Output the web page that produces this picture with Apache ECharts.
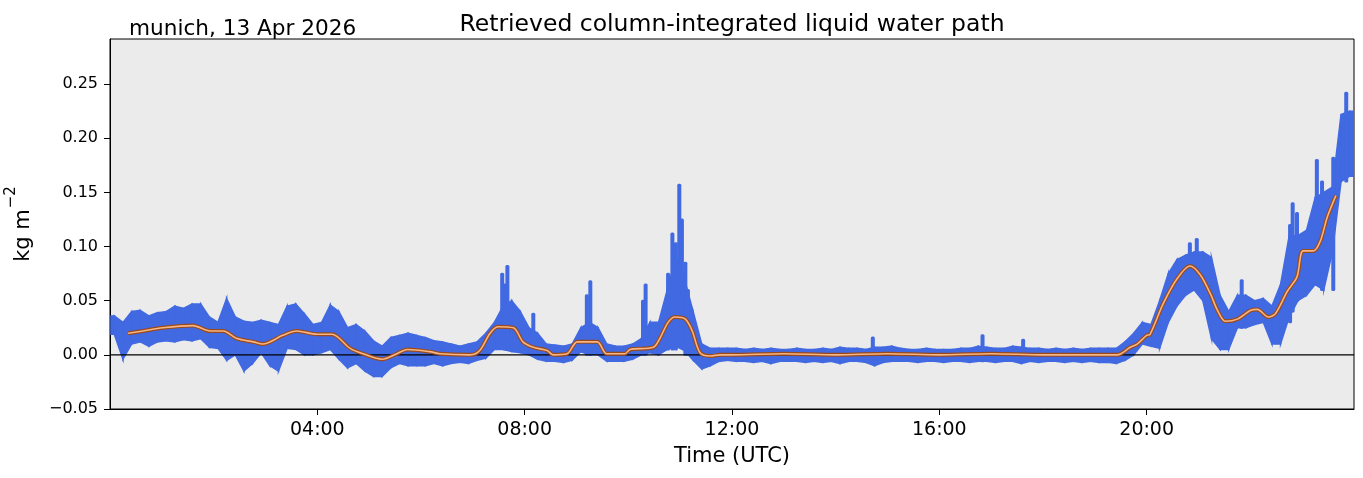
<!DOCTYPE html>
<html>
<head>
<meta charset="utf-8">
<script src="https://cdn.jsdelivr.net/npm/echarts@6/dist/echarts.min.js"></script>
<style>
html,body{margin:0;padding:0;background:#fff;}
#chart{width:1363px;height:478px;}
</style>
</head>
<body>
<div id="chart"></div>
<script>
// 10-minute bins starting 00:00 (bin i covers minutes i*10 .. i*10+10): bulk spread of the retrievals
const binMinutes = 10;
const lwpLow = [
  0.019,-0.004,0.010,0.012,0.008,0.012,
  0.013,0.012,0.014,0.013,0.015,0.007,
  0.006,-0.005,0.000,-0.015,-0.008,0.002,
  -0.010,-0.015,0.006,0.005,0.000,0.000,
  0.002,0.005,-0.004,-0.012,-0.008,-0.015,
  -0.020,-0.020,-0.012,-0.008,-0.010,-0.010,
  -0.010,-0.008,-0.010,-0.008,-0.007,-0.008,
  -0.005,-0.003,0.005,0.005,0.003,0.002,
  0.000,-0.004,-0.006,-0.006,-0.007,-0.005,
  0.003,0.000,0.000,-0.006,-0.006,-0.006,
  -0.004,0.000,0.002,0.000,0.005,0.008,
  0.004,-0.005,-0.013,-0.010,-0.006,-0.005,
  -0.006,-0.006,-0.007,-0.006,-0.008,-0.006,
  -0.006,-0.006,-0.007,-0.006,-0.007,-0.006,
  -0.008,-0.006,-0.006,-0.007,-0.010,-0.007,
  -0.006,-0.006,-0.006,-0.007,-0.006,-0.006,
  -0.007,-0.006,-0.006,-0.007,-0.006,-0.006,
  -0.007,-0.006,-0.006,-0.008,-0.006,-0.007,
  -0.006,-0.006,-0.007,-0.006,-0.007,-0.006,
  -0.007,-0.007,-0.008,-0.005,0.000,0.010,
  0.008,0.006,0.030,0.045,0.055,0.060,
  0.050,0.015,0.005,0.005,0.025,0.025,
  0.028,0.030,0.010,0.010,0.035,0.050,
  0.055,0.065,0.060,0.095,0.160,0.165
];
const lwpHigh = [
  0.036,0.030,0.040,0.041,0.036,0.039,
  0.040,0.045,0.043,0.047,0.047,0.035,
  0.030,0.052,0.035,0.031,0.030,0.032,
  0.030,0.028,0.045,0.047,0.038,0.028,
  0.030,0.046,0.040,0.025,0.028,0.022,
  0.013,0.008,0.016,0.018,0.020,0.018,
  0.016,0.013,0.012,0.010,0.008,0.010,
  0.012,0.020,0.030,0.045,0.050,0.040,
  0.025,0.020,0.010,0.009,0.008,0.010,
  0.025,0.030,0.025,0.010,0.008,0.008,
  0.010,0.015,0.030,0.030,0.060,0.090,
  0.070,0.040,0.010,0.006,0.006,0.006,
  0.006,0.005,0.006,0.005,0.006,0.005,
  0.005,0.006,0.005,0.005,0.006,0.005,
  0.007,0.006,0.006,0.005,0.007,0.007,
  0.008,0.006,0.005,0.005,0.006,0.005,
  0.005,0.005,0.006,0.006,0.008,0.007,
  0.006,0.006,0.008,0.007,0.006,0.006,
  0.005,0.006,0.005,0.006,0.005,0.006,
  0.006,0.006,0.006,0.012,0.020,0.030,
  0.028,0.050,0.075,0.088,0.092,0.095,
  0.095,0.090,0.055,0.040,0.055,0.055,
  0.050,0.052,0.045,0.065,0.110,0.110,
  0.115,0.145,0.150,0.155,0.222,0.225
];
// short bursts above/below the bulk: [minute, low, high]
const burstMinutes = [454,457,460,490,552,556,617,620,646,651,655,659,662,666,669,883,1010,1057,1250,1258,1310,1366,1369,1374,1397,1403,1416,1431];
const burstLow     = [0.010,0.005,0.010,0.000,0.000,0.000,0.000,0.000,0.005,0.005,0.005,0.008,0.010,0.000,0.000,-0.008,-0.006,-0.006,0.060,0.060,0.025,0.030,0.040,0.050,0.065,0.060,0.060,0.160];
const burstHigh    = [0.075,0.065,0.082,0.038,0.055,0.068,0.050,0.065,0.075,0.112,0.103,0.157,0.125,0.085,0.060,0.016,0.018,0.014,0.103,0.107,0.069,0.120,0.140,0.131,0.180,0.160,0.182,0.242];
// smoothed curve: time in minutes after 00:00 UTC, value in kg m-2
const smoothMinutes = [21,38,61,96,116,131,147,166,177,200,216,240,257,278,293,315,332,344,370,382,417,428,440,449,467,478,490,506,513,529,541,564,575,596,602,629,637,646,654,666,674,683,695,706,720,780,840,900,960,1020,1080,1140,1166,1181,1189,1200,1204,1219,1235,1250,1262,1274,1282,1291,1305,1320,1328,1341,1349,1363,1374,1381,1393,1401,1409,1419];
const smoothValues  = [0.020,0.022,0.025,0.027,0.022,0.022,0.015,0.012,0.010,0.018,0.022,0.019,0.019,0.006,0.001,-0.004,0.001,0.005,0.003,0.001,0.000,0.004,0.020,0.026,0.025,0.012,0.007,0.004,0.000,0.001,0.012,0.012,0.001,0.001,0.005,0.007,0.016,0.030,0.035,0.033,0.022,0.002,-0.001,0.000,0.000,0.001,0.000,0.001,0.000,0.001,0.000,0.000,0.000,0.007,0.010,0.018,0.019,0.047,0.070,0.082,0.074,0.056,0.041,0.031,0.033,0.041,0.042,0.035,0.038,0.059,0.072,0.096,0.096,0.105,0.127,0.147];
const xTickMinutes = [0,240,480,720,960,1200,1440];
const yTicks = [-0.05,0.00,0.05,0.10,0.15,0.20,0.25];

const rangeData = lwpLow.map((lo,i)=>[i*binMinutes + binMinutes/2, lo, lwpHigh[i]]);
const burstData = burstMinutes.map((t,i)=>[t, burstLow[i], burstHigh[i]]);
const smoothData = smoothMinutes.map((t,i)=>[t, smoothValues[i]]);
const BLUE = '#4169e1';

const chart = echarts.init(document.getElementById('chart'));
const FONT = 'DejaVu Sans';
function fmtMin(v){
  const h = Math.floor(v/60), m = Math.round(v%60);
  return String(h).padStart(2,'0')+':'+String(m).padStart(2,'0');
}
chart.setOption({
  animation:false,
  backgroundColor:'#ffffff',
  textStyle:{fontFamily:FONT},
  grid:{left:110,right:9,top:39,bottom:69,containLabel:false,outerBoundsMode:'none',show:true,backgroundColor:'#ebebeb',borderColor:'#000',borderWidth:1},
  graphic:[
    {type:'text',x:732,y:37,style:{text:'Retrieved column-integrated liquid water path',font:'23.5px "DejaVu Sans"',fill:'#000',textAlign:'center',textVerticalAlign:'bottom'}},
    {type:'text',x:129,y:40,style:{text:'munich, 13 Apr 2026',font:'21.6px "DejaVu Sans"',fill:'#000',textAlign:'left',textVerticalAlign:'bottom'}}
  ],
  xAxis:{
    type:'value',min:xTickMinutes[0],max:xTickMinutes[xTickMinutes.length-1],interval:240,
    name:'Time (UTC)',nameLocation:'middle',nameGap:37,
    nameTextStyle:{fontSize:21,color:'#000',fontFamily:FONT},
    axisLine:{show:true,onZero:false,lineStyle:{color:'#000',width:1}},
    axisTick:{show:true,inside:false,length:6,lineStyle:{color:'#000'}},
    axisLabel:{show:true,margin:12,fontSize:19,color:'#000',fontFamily:FONT,showMinLabel:false,showMaxLabel:false,
      formatter:v=>fmtMin(v)},
    splitLine:{show:false}
  },
  yAxis:{
    type:'value',min:yTicks[0],max:0.2917,interval:0.05,
    name:'{b|kg m}{s|−2}',nameLocation:'middle',nameGap:76,nameRotate:90,
    nameTextStyle:{fontSize:21,color:'#000',fontFamily:FONT,
      rich:{b:{fontSize:21,fontFamily:FONT,color:'#000',lineHeight:30,verticalAlign:'bottom'},
            s:{fontSize:15,fontFamily:FONT,color:'#000',lineHeight:30,verticalAlign:'top',padding:[0,0,0,1]}}},
    axisLine:{show:true,lineStyle:{color:'#000',width:1}},
    axisTick:{show:true,inside:false,length:6,lineStyle:{color:'#000'}},
    axisLabel:{margin:12,fontSize:16,color:'#000',fontFamily:FONT,showMaxLabel:false,
      formatter:v=>{const s=(Math.round(v*100)/100).toFixed(2);return s.replace('-','−');}},
    splitLine:{show:false}
  },
  series:[
    {
      type:'custom',name:'LWP',
      renderItem:function(params,api){
        const i=params.dataIndex;
        const t=api.value(0), lo=api.value(1), hi=api.value(2);
        if(i===0){
          const a=api.coord([0,hi]), b=api.coord([0,lo]);
          const c=api.coord([t,hi]), d=api.coord([t,lo]);
          return {type:'polygon',shape:{points:[[a[0]+1,a[1]],c,d,[b[0]+1,b[1]]]},style:{fill:BLUE,stroke:BLUE,lineWidth:1.5}};
        }
        const tp=rangeData[i-1][0], lop=rangeData[i-1][1], hip=rangeData[i-1][2];
        const p1=api.coord([tp,hip]), p2=api.coord([t,hi]), p3=api.coord([t,lo]), p4=api.coord([tp,lop]);
        const children=[{type:'polygon',shape:{points:[p1,p2,p3,p4]},style:{fill:BLUE,stroke:BLUE,lineWidth:1.5}}];
        if(i===rangeData.length-1){
          const e=api.coord([t+4,hi]), f=api.coord([t+4,lo]);
          children.push({type:'polygon',shape:{points:[p2,e,f,p3]},style:{fill:BLUE,stroke:BLUE,lineWidth:1.5}});
        }
        return {type:'group',children:children};
      },
      encode:{x:0,y:[1,2]},
      data:rangeData,
      clip:true,
      z:2
    },
    {
      type:'custom',name:'bursts',
      renderItem:function(params,api){
        const t=api.value(0), lo=api.value(1), hi=api.value(2);
        const a=api.coord([t,hi]), b=api.coord([t,lo]);
        return {type:'rect',shape:{x:a[0]-2,y:a[1]-1,width:4,height:b[1]-a[1]+2,r:1.5},style:{fill:BLUE}};
      },
      encode:{x:0,y:[1,2]},
      data:burstData,
      clip:true,
      z:2
    },
    {type:'line',data:[[0,0],[1440,0]],symbol:'none',silent:true,lineStyle:{color:'#000',width:1.2},z:3},
    {type:'line',data:smoothData,symbol:'none',smooth:0.3,lineStyle:{color:'#9c4a1a',width:4},z:4,silent:true},
    {type:'line',data:smoothData,symbol:'none',smooth:0.3,lineStyle:{color:'#f6b585',width:1.6},z:5,silent:true}
  ]
});
</script>
</body>
</html>
